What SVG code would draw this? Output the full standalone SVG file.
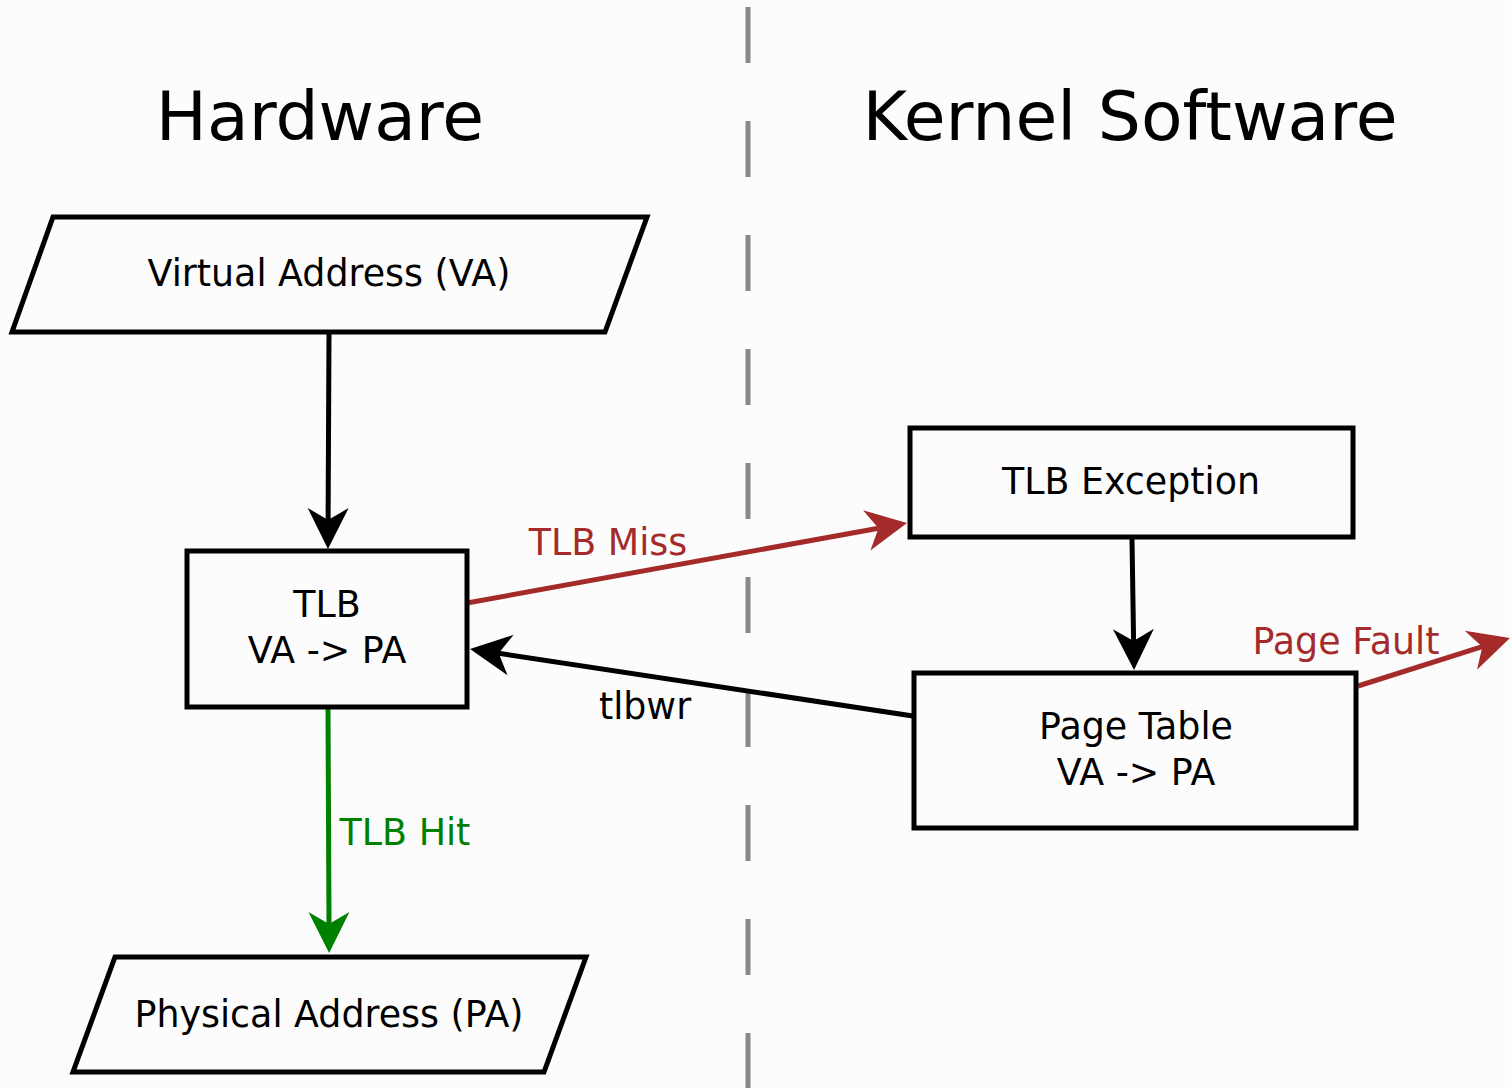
<svg xmlns="http://www.w3.org/2000/svg" width="1511" height="1088" viewBox="0 0 1511 1088">
  <style>
    text { font-family: "DejaVu Sans", "Liberation Sans", sans-serif; }
    .title { font-size: 68px; fill: #000; text-anchor: middle; }
    .label { font-size: 36.4px; fill: #000; text-anchor: middle; }
    .red { fill: #a52a2a; }
    .green { fill: #008000; }
    .shape { fill: none; stroke: #000; stroke-width: 5; stroke-linejoin: miter; }
    .link { fill: none; stroke-width: 5; }
  </style>
  <defs>
    <marker id="headBlack" markerUnits="userSpaceOnUse" viewBox="-45 -25 50 50" markerWidth="50" markerHeight="50" refX="-29" refY="0" orient="auto">
      <path d="M0,0 L-41,-20.5 L-29,0 L-41,20.5 Z" fill="#000"/>
    </marker>
    <marker id="headRed" markerUnits="userSpaceOnUse" viewBox="-45 -25 50 50" markerWidth="50" markerHeight="50" refX="-29" refY="0" orient="auto">
      <path d="M0,0 L-41,-20.5 L-29,0 L-41,20.5 Z" fill="#a52a2a"/>
    </marker>
    <marker id="headGreen" markerUnits="userSpaceOnUse" viewBox="-45 -25 50 50" markerWidth="50" markerHeight="50" refX="-29" refY="0" orient="auto">
      <path d="M0,0 L-41,-20.5 L-29,0 L-41,20.5 Z" fill="#008000"/>
    </marker>
  </defs>

  <rect x="0" y="0" width="1511" height="1088" fill="#fcfcfc"/>

  <!-- divider between hardware and software -->
  <line x1="748" y1="7" x2="748" y2="1088" stroke="#888" stroke-width="5" stroke-dasharray="56 58"/>

  <text class="title" x="320" y="140">Hardware</text>
  <text class="title" x="1130" y="140">Kernel Software</text>

  <g id="connectors">
    <line class="link" stroke="#000" x1="329" y1="334" x2="328.1" y2="520" marker-end="url(#headBlack)"/>
    <line class="link" stroke="#008000" x1="328" y1="709" x2="329" y2="924" marker-end="url(#headGreen)"/>
    <line class="link" stroke="#a52a2a" x1="467" y1="603" x2="878.5" y2="528.2" marker-end="url(#headRed)"/>
    <line class="link" stroke="#000" x1="913" y1="716" x2="498.7" y2="653.3" marker-end="url(#headBlack)"/>
    <line class="link" stroke="#000" x1="1132" y1="539" x2="1133.6" y2="641" marker-end="url(#headBlack)"/>
    <line class="link" stroke="#a52a2a" x1="1358" y1="686" x2="1482.3" y2="646.7" marker-end="url(#headRed)"/>
    <text class="label red" x="608" y="555">TLB Miss</text>
    <text class="label" x="645" y="719">tlbwr</text>
    <text class="label green" x="405" y="845">TLB Hit</text>
    <text class="label red" x="1346" y="654">Page Fault</text>
  </g>

  <g id="virtual-address">
    <polygon class="shape" points="53,217 647,217 605,332 12,332"/>
    <text class="label" x="329" y="286">Virtual Address (VA)</text>
  </g>

  <g id="tlb">
    <rect class="shape" x="187" y="551" width="280" height="156"/>
    <text class="label" x="327" y="617">TLB</text>
    <text class="label" x="327" y="663">VA -&gt; PA</text>
  </g>

  <g id="physical-address">
    <polygon class="shape" points="115,957 586,957 544,1072 73,1072"/>
    <text class="label" x="329" y="1027">Physical Address (PA)</text>
  </g>

  <g id="tlb-exception">
    <rect class="shape" x="910" y="428" width="443" height="109"/>
    <text class="label" x="1131" y="494">TLB Exception</text>
  </g>

  <g id="page-table">
    <rect class="shape" x="914" y="673" width="442" height="155"/>
    <text class="label" x="1136" y="739">Page Table</text>
    <text class="label" x="1136" y="785">VA -&gt; PA</text>
  </g>
</svg>
